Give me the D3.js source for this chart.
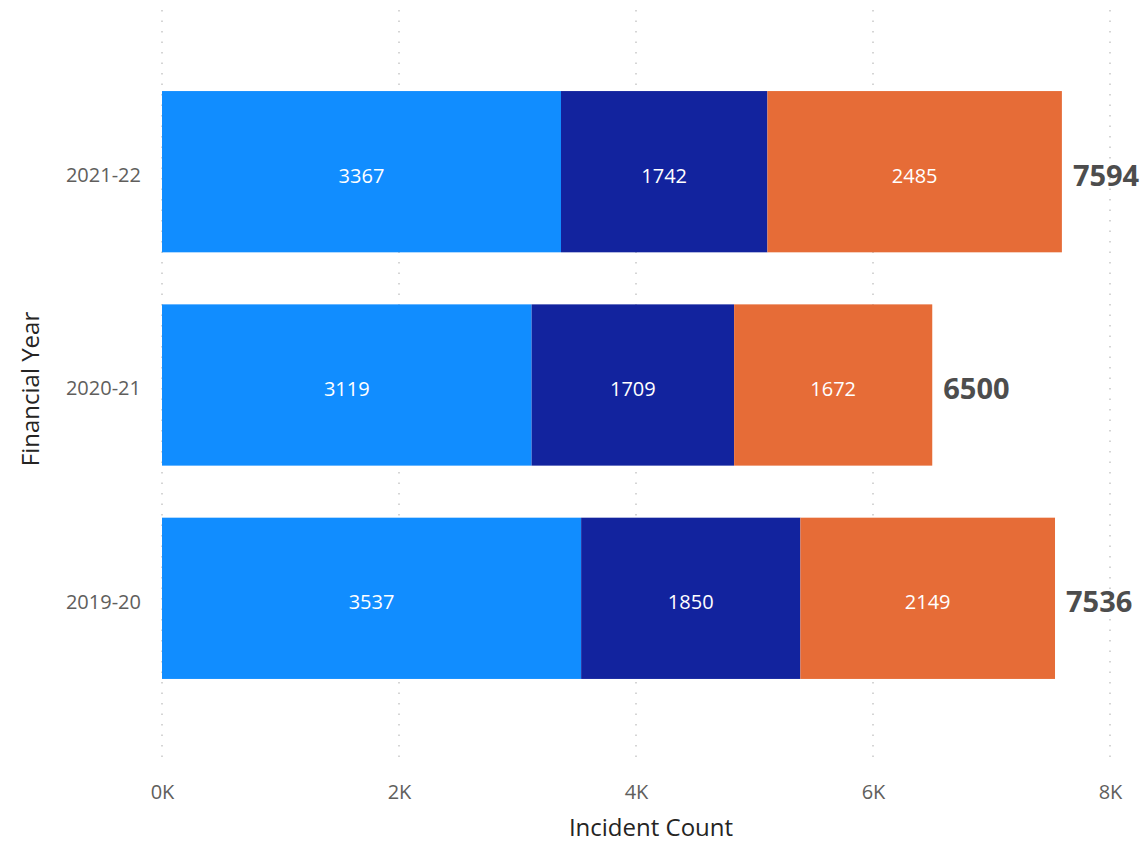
<!DOCTYPE html>
<html>
<head>
<meta charset="utf-8">
<script src="https://cdn.jsdelivr.net/npm/d3@7/dist/d3.min.js"></script>
<style>
  body { margin: 0; background: #fff; }
  text { font-family: "Segoe UI", "Open Sans", "Noto Sans", sans-serif; }
</style>
</head>
<body>
<svg width="1145" height="843"></svg>
<script>
const years = ['2021-22', '2020-21', '2019-20'];
const seriesA = [3367, 3119, 3537];
const seriesB = [1742, 1709, 1850];
const seriesC = [2485, 1672, 2149];
const colors = ['#118DFF', '#12239E', '#E66C37'];
const xTicks = [0, 2000, 4000, 6000, 8000];

const svg = d3.select('svg');

const plotLeft = 162;
const plotRight = 1110;
const plotTop = 10;
const plotBottom = 760;
const labelShift = 4; // labels sit a little below the band centre

const x = d3.scaleLinear()
    .domain([0, 8000])
    .range([plotLeft, plotRight]);

const y = d3.scaleBand()
    .domain(years)
    .range([plotTop, plotBottom])
    .paddingInner(0.244)
    .paddingOuter(0.38);

// dotted gridlines
svg.append('g')
  .selectAll('line')
  .data(xTicks)
  .join('line')
    .attr('x1', d => x(d))
    .attr('x2', d => x(d))
    .attr('y1', plotTop)
    .attr('y2', plotBottom)
    .attr('stroke', '#c8c8c8')
    .attr('stroke-width', 1.5)
    .attr('stroke-dasharray', '1.5,9');

const rows = years.map((yr, i) => ({ yr, vals: [seriesA[i], seriesB[i], seriesC[i]] }));
const stacked = d3.stack().keys([0, 1, 2])(rows.map(r => r.vals));

const layers = svg.append('g')
  .selectAll('g')
  .data(stacked)
  .join('g')
    .attr('fill', (d, i) => colors[i]);

layers.selectAll('rect')
  .data(d => d.map((s, j) => ({ s, yr: years[j] })))
  .join('rect')
    .attr('x', d => x(d.s[0]))
    .attr('width', d => x(d.s[1]) - x(d.s[0]))
    .attr('y', d => y(d.yr))
    .attr('height', y.bandwidth());

layers.selectAll('text')
  .data(d => d.map((s, j) => ({ s, yr: years[j] })))
  .join('text')
    .attr('x', d => (x(d.s[0]) + x(d.s[1])) / 2)
    .attr('y', d => y(d.yr) + y.bandwidth() / 2 + labelShift)
    .attr('dy', '0.35em')
    .attr('text-anchor', 'middle')
    .attr('fill', '#fff')
    .attr('font-size', 20)
    .text(d => d.s[1] - d.s[0]);

// totals
svg.append('g')
  .selectAll('text')
  .data(rows)
  .join('text')
    .attr('x', d => x(d3.sum(d.vals)) + 11)
    .attr('y', d => y(d.yr) + y.bandwidth() / 2 + labelShift)
    .attr('dy', '0.35em')
    .attr('fill', '#4d4d4d')
    .attr('font-size', 29)
    .attr('font-weight', 'bold')
    .text(d => d3.sum(d.vals));

// x axis
const xAxis = svg.append('g')
    .attr('transform', `translate(0, ${plotBottom + 22})`)
    .call(d3.axisBottom(x).tickValues(xTicks).tickFormat(d => (d / 1000) + 'K').tickSize(0));
xAxis.select('.domain').remove();
xAxis.selectAll('text')
    .attr('fill', '#605e5c')
    .attr('font-size', 20);

// y axis
const yAxis = svg.append('g')
    .attr('transform', `translate(${plotLeft - 18}, ${labelShift})`)
    .call(d3.axisLeft(y).tickSize(0));
yAxis.select('.domain').remove();
yAxis.selectAll('text')
    .attr('fill', '#605e5c')
    .attr('font-size', 20);

svg.append('text')
    .attr('x', 651)
    .attr('y', 836)
    .attr('text-anchor', 'middle')
    .attr('fill', '#252423')
    .attr('font-size', 24)
    .text('Incident Count');

svg.append('text')
    .attr('transform', `translate(39, ${(plotTop + plotBottom) / 2 + 4}) rotate(-90)`)
    .attr('text-anchor', 'middle')
    .attr('fill', '#252423')
    .attr('font-size', 24)
    .text('Financial Year');
</script>
</body>
</html>
